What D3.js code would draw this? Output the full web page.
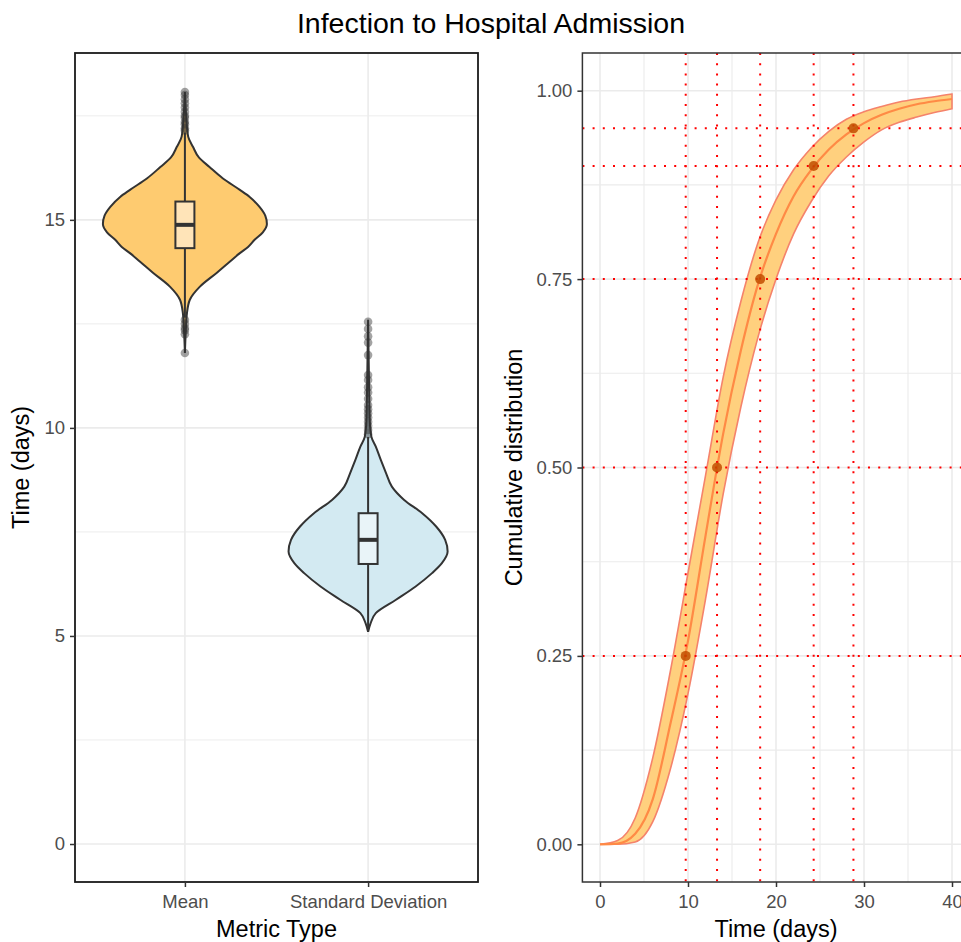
<!DOCTYPE html>
<html>
<head>
<meta charset="utf-8">
<script src="https://cdn.jsdelivr.net/npm/d3@7"></script>
<style>
  body { margin: 0; background: #fff; }
  text { font-family: "Liberation Sans", Arial, sans-serif; }
</style>
</head>
<body>
<svg width="961" height="942"></svg>
<script>
// ---- data ----
const metricTypes = ["Mean", "Standard Deviation"];

// violin profiles: value (days) and relative density (1 = widest)
const meanViolinValues  = [11.8, 12.3, 12.76, 13.08, 13.39, 13.73, 14.0, 14.2, 14.35, 14.52, 14.7, 14.9, 15.1, 15.31, 15.55, 15.72, 16.0, 16.27, 16.5, 16.75, 17.0, 17.5, 18.07];
const meanViolinDensity = [0, 0.01, 0.025, 0.06, 0.18, 0.39, 0.55, 0.67, 0.77, 0.85, 0.95, 1.0, 0.98, 0.91, 0.79, 0.67, 0.46, 0.3, 0.17, 0.1, 0.04, 0.015, 0];
const sdViolinValues  = [5.1, 5.3, 5.55, 5.87, 6.19, 6.51, 6.75, 7.03, 7.31, 7.63, 7.95, 8.27, 8.59, 8.91, 9.23, 9.55, 9.79, 10.2, 11.0, 12.6];
const sdViolinDensity = [0, 0.03, 0.094, 0.34, 0.58, 0.78, 0.9, 0.97, 0.94, 0.83, 0.66, 0.44, 0.29, 0.22, 0.155, 0.094, 0.04, 0.02, 0.012, 0];

// box plot stats  [Mean, SD]
const boxQ1 = [14.32, 6.73];
const boxMedian = [14.88, 7.31];
const boxQ3 = [15.44, 7.95];
const whiskerLow = [12.65, 5.1];
const whiskerHigh = [17.1, 9.78];
const meanOutliers = [17.15, 17.2, 17.3, 17.35, 17.45, 17.5, 17.6, 17.7, 17.8, 17.9, 18.0, 18.07, 12.6, 12.5, 12.4, 12.35, 12.25, 11.8];
const sdOutliers = [12.55, 12.38, 12.2, 12.05, 11.75, 11.27, 11.15, 10.98, 10.85, 10.7, 10.55, 10.45, 10.35, 10.25, 10.15, 10.05, 9.95, 9.85];

// cumulative distribution
const cdfDays   = [0, 2, 4, 6, 8, 10, 12, 14, 16, 18, 20, 22, 24, 26, 28, 30, 32, 34, 36, 38, 40];
const cdfMedian = [0, 0.001, 0.014, 0.06, 0.16, 0.27, 0.41, 0.545, 0.655, 0.745, 0.81, 0.86, 0.895, 0.922, 0.942, 0.957, 0.968, 0.976, 0.982, 0.986, 0.989];
const cdfUpper  = [0, 0.005, 0.035, 0.115, 0.23, 0.36, 0.49, 0.62, 0.72, 0.8, 0.855, 0.895, 0.924, 0.946, 0.962, 0.972, 0.979, 0.985, 0.989, 0.992, 0.9955];
const cdfLower  = [0, 0, 0.003, 0.03, 0.1, 0.2, 0.326, 0.465, 0.58, 0.675, 0.75, 0.81, 0.853, 0.887, 0.912, 0.932, 0.948, 0.958, 0.965, 0.971, 0.976];

const quantileProbs = [0.25, 0.5, 0.75, 0.9, 0.95];
const quantileDays  = [9.74, 13.3, 18.2, 24.28, 28.8];

// ---- setup ----
const svg = d3.select("svg");
const panelTop = 53, panelBottom = 882;
const tickFont = "18.5px", titleFont = "23.5px";

svg.append("text")
  .attr("x", 491).attr("y", 33)
  .attr("text-anchor", "middle")
  .style("font-size", "28.5px")
  .text("Infection to Hospital Admission");

function styleAxis(a) {
  a.select(".domain").remove();
  a.selectAll(".tick line").attr("stroke", "#333").attr("stroke-width", 1.5);
  a.selectAll(".tick text").attr("fill", "#4d4d4d").style("font-size", tickFont)
    .style("font-family", "'Liberation Sans', Arial, sans-serif");
}

// ================= left panel =================
const L = { left: 75, right: 478 };
const xCat = d3.scalePoint().domain(metricTypes).range([L.left, L.right]).padding(0.6);
const yLeft = d3.scaleLinear().domain([-0.913, 19.01]).range([panelBottom, panelTop]);
const halfWidth = d3.scaleLinear().domain([0, 1]).range([0, 82]);

const gl = svg.append("g");

// grid
gl.selectAll(null).data([2.5, 7.5, 12.5, 17.5]).enter().append("line")
  .attr("x1", L.left).attr("x2", L.right)
  .attr("y1", d => yLeft(d)).attr("y2", d => yLeft(d))
  .attr("stroke", "#ebebeb").attr("stroke-width", 0.9);
gl.selectAll(null).data([0, 5, 10, 15]).enter().append("line")
  .attr("x1", L.left).attr("x2", L.right)
  .attr("y1", d => yLeft(d)).attr("y2", d => yLeft(d))
  .attr("stroke", "#ebebeb").attr("stroke-width", 1.6);
gl.selectAll(null).data(metricTypes).enter().append("line")
  .attr("x1", d => xCat(d)).attr("x2", d => xCat(d))
  .attr("y1", panelTop).attr("y2", panelBottom)
  .attr("stroke", "#ebebeb").attr("stroke-width", 1.6);

const violins = [
  { cat: "Mean", values: meanViolinValues, dens: meanViolinDensity, fill: "#fecb70", boxFill: "#ffe4b8", outliers: meanOutliers },
  { cat: "Standard Deviation", values: sdViolinValues, dens: sdViolinDensity, fill: "#d3eaf2", boxFill: "#e9f4f8", outliers: sdOutliers }
];

violins.forEach((v, i) => {
  const cx = xCat(v.cat);
  const prof = v.values.map((val, j) => ({ val: val, d: v.dens[j] }));
  const area = d3.area()
    .y(p => yLeft(p.val))
    .x0(p => cx - halfWidth(p.d))
    .x1(p => cx + halfWidth(p.d))
    .curve(d3.curveMonotoneY);
  gl.append("path").attr("d", area(prof))
    .attr("fill", v.fill).attr("stroke", "#333").attr("stroke-width", 2);

  // whiskers
  gl.append("line").attr("x1", cx).attr("x2", cx)
    .attr("y1", yLeft(whiskerLow[i])).attr("y2", yLeft(boxQ1[i]))
    .attr("stroke", "#333").attr("stroke-width", 2);
  gl.append("line").attr("x1", cx).attr("x2", cx)
    .attr("y1", yLeft(boxQ3[i])).attr("y2", yLeft(whiskerHigh[i]))
    .attr("stroke", "#333").attr("stroke-width", 2);
  // box
  gl.append("rect")
    .attr("x", cx - 9.5).attr("width", 19)
    .attr("y", yLeft(boxQ3[i])).attr("height", yLeft(boxQ1[i]) - yLeft(boxQ3[i]))
    .attr("fill", v.boxFill).attr("stroke", "#333").attr("stroke-width", 2);
  gl.append("line").attr("x1", cx - 9.5).attr("x2", cx + 9.5)
    .attr("y1", yLeft(boxMedian[i])).attr("y2", yLeft(boxMedian[i]))
    .attr("stroke", "#333").attr("stroke-width", 4);
  // outliers
  gl.selectAll(null).data(v.outliers).enter().append("circle")
    .attr("cx", cx).attr("cy", d => yLeft(d)).attr("r", 4.3)
    .attr("fill", "#333").attr("fill-opacity", 0.45);
});

gl.append("rect").attr("x", L.left).attr("y", panelTop)
  .attr("width", L.right - L.left).attr("height", panelBottom - panelTop)
  .attr("fill", "none").attr("stroke", "#1a1a1a").attr("stroke-width", 1.8);

styleAxis(gl.append("g").attr("transform", `translate(${L.left},0)`)
  .call(d3.axisLeft(yLeft).tickValues([0, 5, 10, 15]).tickSize(5).tickPadding(5)));
styleAxis(gl.append("g").attr("transform", `translate(0,${panelBottom})`)
  .call(d3.axisBottom(xCat).tickSize(5).tickPadding(8)));

gl.append("text").attr("x", (L.left + L.right) / 2).attr("y", 937)
  .attr("text-anchor", "middle").style("font-size", titleFont).text("Metric Type");
gl.append("text").attr("transform", `translate(29,${(panelTop + panelBottom) / 2}) rotate(-90)`)
  .attr("text-anchor", "middle").style("font-size", titleFont).text("Time (days)");

// ================= right panel =================
const R = { left: 582.4, right: 969.6 };
const xDay = d3.scaleLinear().domain([-2, 42]).range([R.left, R.right]);
const yCdf = d3.scaleLinear().domain([-0.05, 1.05]).range([panelBottom, panelTop]);

const gr = svg.append("g");
gr.selectAll(null).data([5, 15, 25, 35]).enter().append("line")
  .attr("x1", d => xDay(d)).attr("x2", d => xDay(d)).attr("y1", panelTop).attr("y2", panelBottom)
  .attr("stroke", "#ebebeb").attr("stroke-width", 1.1);
gr.selectAll(null).data([0.125, 0.375, 0.625, 0.875]).enter().append("line")
  .attr("x1", R.left).attr("x2", R.right).attr("y1", d => yCdf(d)).attr("y2", d => yCdf(d))
  .attr("stroke", "#ebebeb").attr("stroke-width", 1.1);
gr.selectAll(null).data([0, 10, 20, 30, 40]).enter().append("line")
  .attr("x1", d => xDay(d)).attr("x2", d => xDay(d)).attr("y1", panelTop).attr("y2", panelBottom)
  .attr("stroke", "#ebebeb").attr("stroke-width", 1.6);
gr.selectAll(null).data([0, 0.25, 0.5, 0.75, 1]).enter().append("line")
  .attr("x1", R.left).attr("x2", R.right).attr("y1", d => yCdf(d)).attr("y2", d => yCdf(d))
  .attr("stroke", "#ebebeb").attr("stroke-width", 1.6);

const cdfRows = cdfDays.map((t, i) => ({ t: t, m: cdfMedian[i], lo: cdfLower[i], hi: cdfUpper[i] }));
const ribbon = d3.area().x(d => xDay(d.t)).y0(d => yCdf(d.lo)).y1(d => yCdf(d.hi)).curve(d3.curveMonotoneX);
gr.append("path").attr("d", ribbon(cdfRows))
  .attr("fill", "#ffd07e").attr("stroke", "#f5836b").attr("stroke-width", 1.6);
gr.append("path")
  .attr("d", d3.line().x(d => xDay(d.t)).y(d => yCdf(d.m)).curve(d3.curveMonotoneX)(cdfRows))
  .attr("fill", "none").attr("stroke", "#ff8a45").attr("stroke-width", 2.2);

// quantile reference lines
gr.selectAll(null).data(quantileProbs).enter().append("line")
  .attr("x1", R.left).attr("x2", R.right).attr("y1", d => yCdf(d)).attr("y2", d => yCdf(d))
  .attr("stroke", "red").attr("stroke-width", 2).attr("stroke-dasharray", "2,8.2");
gr.selectAll(null).data(quantileDays).enter().append("line")
  .attr("x1", d => xDay(d)).attr("x2", d => xDay(d)).attr("y1", panelTop).attr("y2", panelBottom)
  .attr("stroke", "red").attr("stroke-width", 2).attr("stroke-dasharray", "2,8.2");

gr.selectAll(null).data(quantileDays).enter().append("circle")
  .attr("cx", d => xDay(d)).attr("cy", (d, i) => yCdf(quantileProbs[i])).attr("r", 5)
  .attr("fill", "#c24e00").attr("fill-opacity", 0.85);

gr.append("rect").attr("x", R.left).attr("y", panelTop)
  .attr("width", R.right - R.left).attr("height", panelBottom - panelTop)
  .attr("fill", "none").attr("stroke", "#333").attr("stroke-width", 1.5);

styleAxis(gr.append("g").attr("transform", `translate(${R.left},0)`)
  .call(d3.axisLeft(yCdf).tickValues([0, 0.25, 0.5, 0.75, 1]).tickFormat(d3.format(".2f")).tickSize(5).tickPadding(5)));
styleAxis(gr.append("g").attr("transform", `translate(0,${panelBottom})`)
  .call(d3.axisBottom(xDay).tickValues([0, 10, 20, 30, 40]).tickSize(5).tickPadding(8)));

gr.append("text").attr("x", xDay(20)).attr("y", 937)
  .attr("text-anchor", "middle").style("font-size", titleFont).text("Time (days)");
gr.append("text").attr("transform", `translate(522,${(panelTop + panelBottom) / 2}) rotate(-90)`)
  .attr("text-anchor", "middle").style("font-size", titleFont).text("Cumulative distribution");
</script>
</body>
</html>
